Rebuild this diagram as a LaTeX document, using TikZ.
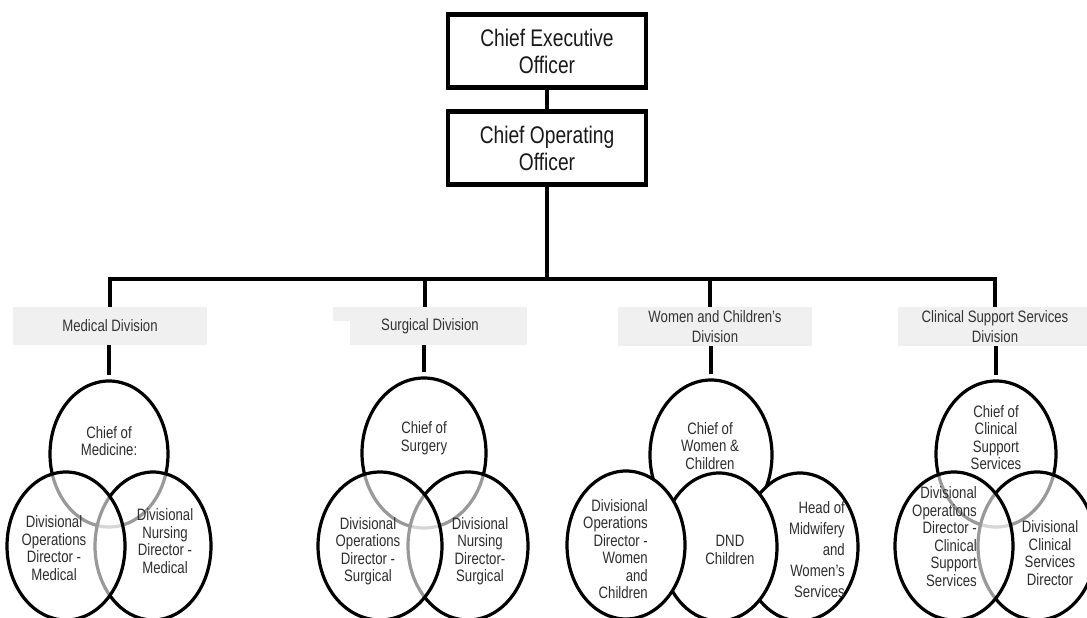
\documentclass[tikz,border=0pt]{standalone}
\usepackage{fontspec}
\setmainfont{Liberation Sans}[FakeStretch=0.8]
\usetikzlibrary{shapes.geometric,calc}

\tikzset{
  exec/.style={draw=black, line width=4.3pt, fill=white, minimum width=198pt,
    minimum height=73pt, inner sep=0pt, align=center,
    font=\fontsize{24}{27}\selectfont, text=black!90},
  conn/.style={line width=4pt, draw=black},
  divbox/.style={fill=black!6, minimum width=194pt, minimum height=38pt,
    inner sep=0pt, align=center, font=\fontsize{16.5}{20}\selectfont, text=black!80},
  venn/.style={ellipse, draw=black, line width=3.2pt, fill=white,
    fill opacity=0.6, inner sep=0pt},
  solidvenn/.style={ellipse, draw=black, line width=3.2pt, fill=white, inner sep=0pt},
  member/.style={align=center, font=\fontsize{16.5}{17.5}\selectfont,
    text=black!82, inner sep=0pt},
}

\begin{document}
\begin{tikzpicture}[x=1pt,y=-1pt]
\useasboundingbox (0,0) rectangle (1087,618);
\clip (0,0) rectangle (1087,618);

% executive boxes
\node[exec] (ceo) at (547,51) {Chief Executive\\Officer};
\node[exec] (coo) at (547,148) {Chief Operating\\Officer};

% division boxes
\node[divbox] (medDiv) at (110,326) {Medical Division};
\node[divbox] (surDiv) at (430,326) {Surgical Division};
\fill[white] (333,321) rectangle (350,347);
\node[divbox, minimum height=39pt] (womDiv) at (715,326.5) {Women and Children's\\Division};
\node[divbox, minimum height=39pt] (cliDiv) at (995,326.5) {Clinical Support Services\\Division};

% tree connectors
\coordinate (hub) at (coo.south |- 0,279);
\coordinate (jMed) at (110,279);
\coordinate (jSur) at (425,279);
\coordinate (jWom) at (710,279);
\coordinate (jCli) at (995,279);
\draw[conn] (ceo) -- (coo);
\draw[conn] (coo.south) -- (hub);
\draw[conn] (jMed |- medDiv.north) -- (jMed) -- (jCli) -- (jCli |- cliDiv.north);
\draw[conn] (jSur) -- (jSur |- surDiv.north);
\draw[conn] (jWom) -- (jWom |- womDiv.north);

% Medical division
\node[venn, minimum width=118pt, minimum height=146pt] (medA) at (109,454) {};
\node[venn, minimum width=116pt, minimum height=148pt] (medC) at (153,546) {};
\node[venn, minimum width=118pt, minimum height=148pt] (medB) at (66,546) {};
\node[member] (medAt) at (109,441) {Chief of\\Medicine:};
\node[member] (medBt) at (54,548) {Divisional\\Operations\\Director -\\Medical};
\node[member] (medCt) at (165,541) {Divisional\\Nursing\\Director -\\Medical};
\draw[conn, shorten >=4pt] (medA.north |- medDiv.south) -- (medA.north);

% Surgical division
\node[venn, minimum width=124pt, minimum height=150pt] (surA) at (424,453) {};
\node[venn, minimum width=120pt, minimum height=148pt] (surC) at (468,546) {};
\node[venn, minimum width=124pt, minimum height=148pt] (surB) at (380,546) {};
\node[member] (surAt) at (424,438) {Chief of\\Surgery};
\node[member] (surBt) at (368,551) {Divisional\\Operations\\Director -\\Surgical};
\node[member] (surCt) at (480,551) {Divisional\\Nursing\\Director-\\Surgical};
\draw[conn, shorten >=4pt] (surA.north |- surDiv.south) -- (surA.north);

% Women and Children's division
\node[solidvenn, minimum width=122pt, minimum height=150pt] (womA) at (711,455) {};
\node[solidvenn, minimum width=116pt, minimum height=148pt] (womD) at (800,547) {};
\node[solidvenn, minimum width=116pt, minimum height=148pt] (womC) at (719,547) {};
\node[solidvenn, minimum width=118pt, minimum height=148pt] (womB) at (626,545) {};
\node[member] (womAt) at (710,446) {Chief of\\Women \&\\Children};
\node[member, align=right, anchor=east] (womBt) at (648,549) {Divisional\\Operations\\Director -\\Women\\and\\Children};
\node[member] (womCt) at (730,550) {DND\\Children};
\node[member, align=right, anchor=east, font=\fontsize{16.5}{21}\selectfont] (womDt) at (845,550) {Head of\\Midwifery\\and\\Women's\\Services};
\draw[conn, shorten >=4pt] (womA.north |- womDiv.south) -- (womA.north);

% Clinical Support Services division
\node[venn, minimum width=120pt, minimum height=146pt] (cliA) at (996,454) {};
\node[venn, minimum width=118pt, minimum height=148pt] (cliC) at (1037,546) {};
\node[venn, minimum width=118pt, minimum height=148pt] (cliB) at (954,546) {};
\node[member] (cliAt) at (996,437.5) {Chief of\\Clinical\\Support\\Services};
\node[member, align=right, anchor=east] (cliBt) at (977,536.5) {Divisional\\Operations\\Director -\\Clinical\\Support\\Services};
\node[member] (cliCt) at (1050,553) {Divisional\\Clinical\\Services\\Director};
\draw[conn, shorten >=4pt] (cliA.north |- cliDiv.south) -- (cliA.north);
\end{tikzpicture}
\end{document}
